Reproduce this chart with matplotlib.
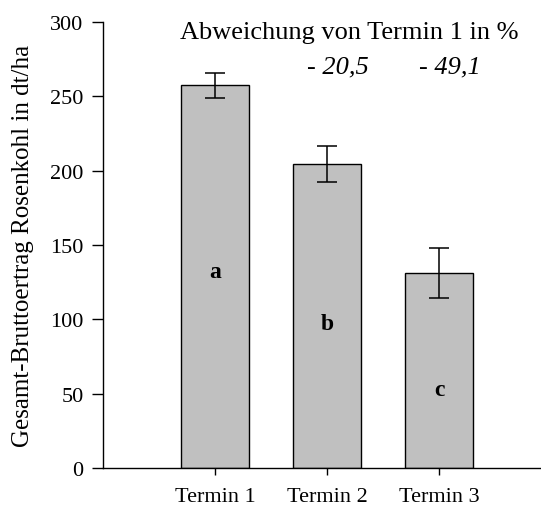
import numpy as np
import matplotlib.pyplot as plt

plt.rcParams['font.family'] = ['Liberation Serif', 'DejaVu Serif']

# data
termine = ["Termin 1", "Termin 2", "Termin 3"]
ertrag = [257.5, 204.5, 131.0]      # dt/ha
fehler = [8.5, 12.0, 17.0]
buchstaben = ["a", "b", "c"]
buchstaben_y = [132, 97, 53]
abweichung = ["- 20,5", "- 49,1"]

x = np.arange(1, len(termine) + 1)

fig = plt.figure(figsize=(5.41, 5.10), dpi=100)
ax = fig.add_axes([0.1904, 0.0804, 0.8076, 0.8746])

ax.bar(x, ertrag, width=0.6, color="#c0c0c0", edgecolor="black", linewidth=1.0)
ax.errorbar(x, ertrag, yerr=fehler, fmt="none", ecolor="black",
            elinewidth=1.1, capsize=7, capthick=1.1)

for xi, b, by in zip(x, buchstaben, buchstaben_y):
    ax.text(xi, by, b, ha="center", va="center", fontsize=17, fontweight="bold")

ax.text(2.2, 293, "Abweichung von Termin 1 in %", ha="center", va="center", fontsize=19)
for xi, s in zip(x[1:], abweichung):
    ax.text(xi + 0.1, 270, s, ha="center", va="center", fontsize=19, style="italic")

ax.set_xlim(0, 3.9)
ax.set_ylim(0, 300)
ax.set_yticks([0, 50, 100, 150, 200, 250, 300])
ax.set_xticks(x)
ax.set_xticklabels(termine)
ax.tick_params(axis="y", length=8, width=1, labelsize=16, pad=6)
ax.tick_params(axis="x", length=5, width=1, labelsize=16, pad=9)
ax.set_ylabel("Gesamt-Bruttoertrag Rosenkohl in dt/ha", fontsize=18, labelpad=12)

for s in ["top", "right"]:
    ax.spines[s].set_visible(False)
for s in ["left", "bottom"]:
    ax.spines[s].set_linewidth(1.0)

fig.savefig("out.png", dpi=100)
